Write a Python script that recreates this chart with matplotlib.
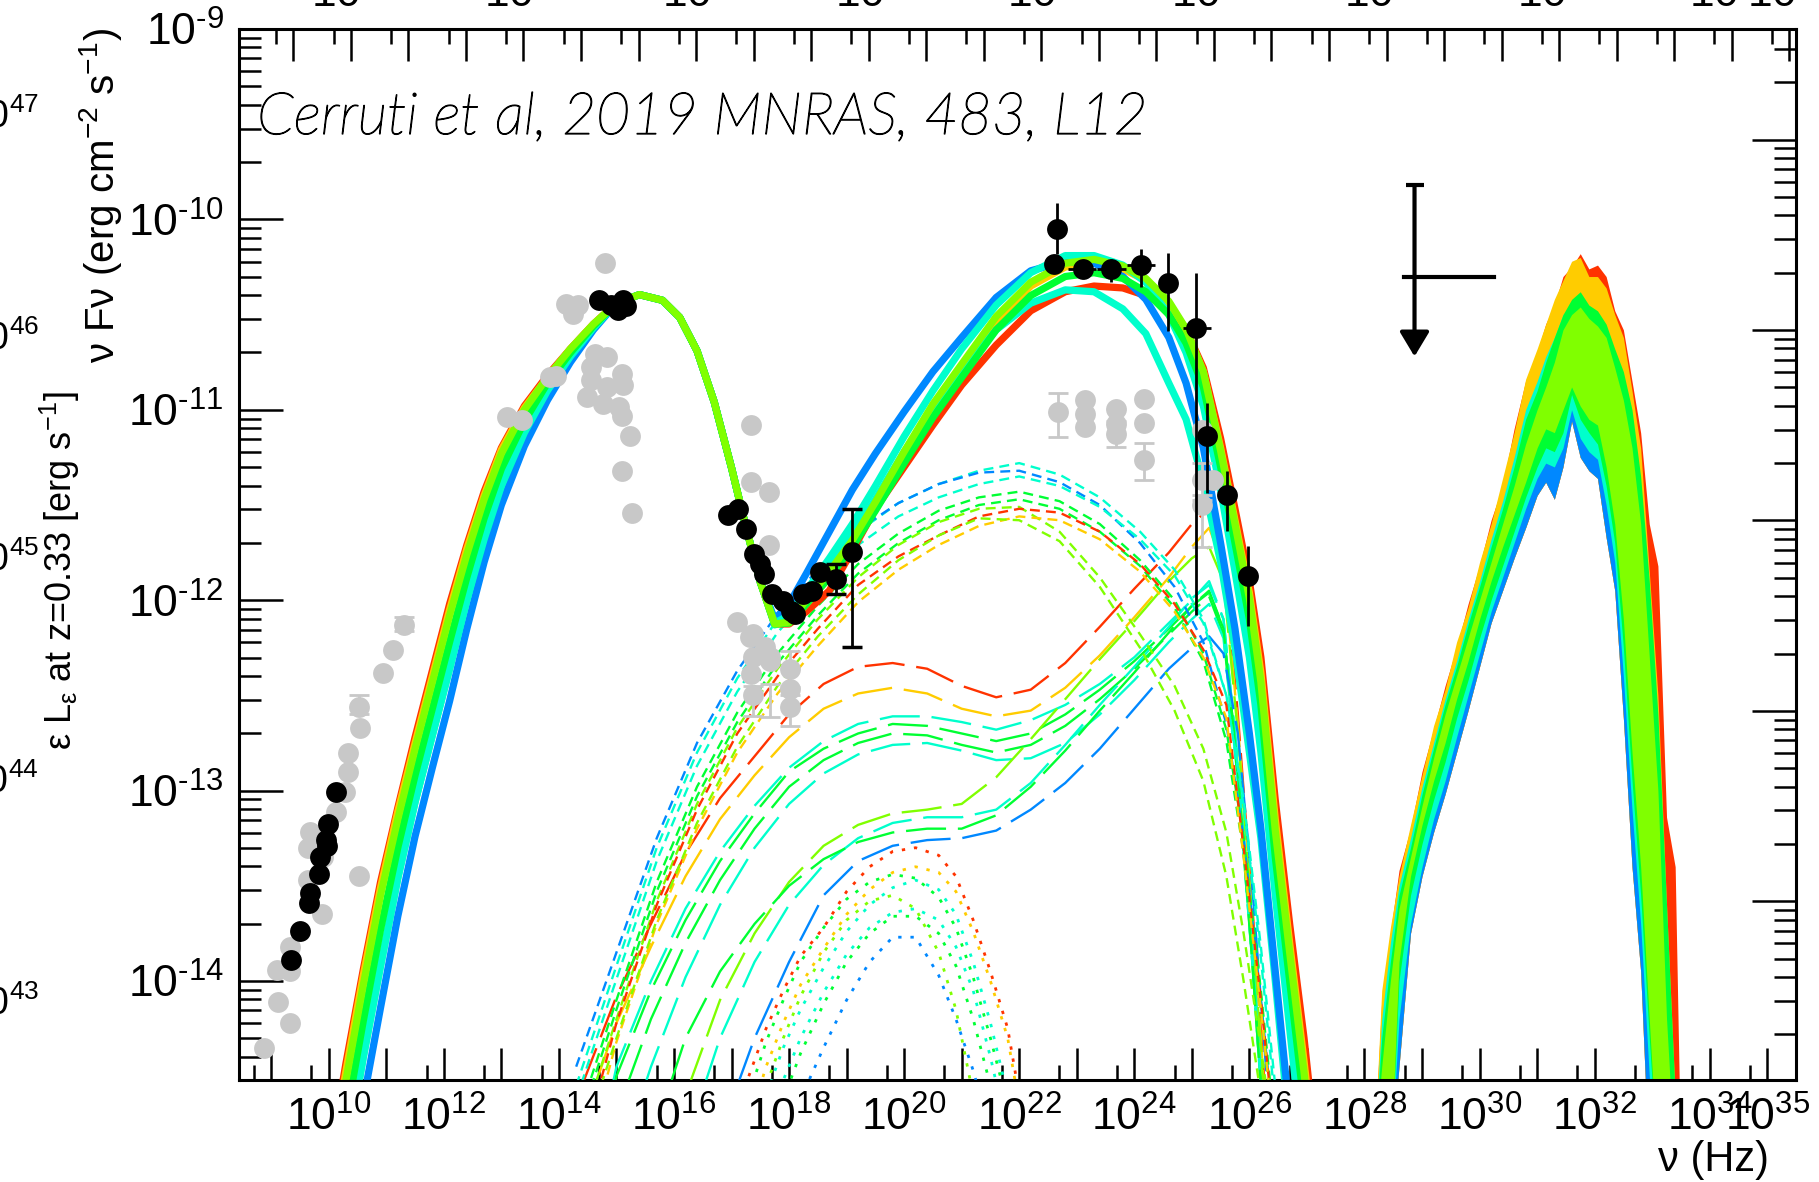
import numpy as np
import matplotlib
matplotlib.use("Agg")
import matplotlib.pyplot as plt
import matplotlib.patheffects as pe
from matplotlib import font_manager
from matplotlib.ticker import FixedLocator, FuncFormatter, NullLocator

# log10(h) in eV s, used for the photon-energy axis on top
LOG_H_EV = -14.3834
# log10(4 pi d_L^2) for z = 0.33, nuFnu -> eps L_eps
LOG_4PI_DL2 = 56.581

X_LOG_MIN, X_LOG_MAX = 8.44, 35.5
Y_LOG_MIN, Y_LOG_MAX = -14.52, -9.0

C_RED = "#ff3300"
C_YELLOW = "#ffcc00"
C_CHART = "#80ff00"
C_GREEN = "#00ff33"
C_CYAN = "#00ffcc"
C_BLUE = "#0088ff"
C_GREY = "#c8c8c8"

# ---------------- total model SEDs (log10 nu, log10 nuFnu) ----------------
lognu_sync_rise = [10.0, 10.3, 10.6, 10.9, 11.2, 11.5, 11.8, 12.1, 12.4, 12.7,
                   13.0, 13.4, 13.8, 14.2, 14.6]
rise_red = [-14.96, -14.43, -13.94, -13.48, -13.09, -12.72, -12.37, -12.02, -11.71, -11.43,
            -11.20, -10.98, -10.82, -10.68, -10.55]
rise_yellow = [-15.00, -14.47, -13.97, -13.51, -13.11, -12.75, -12.40, -12.05, -11.73, -11.45,
               -11.21, -10.99, -10.83, -10.68, -10.55]
rise_chart = [-15.05, -14.52, -14.02, -13.55, -13.15, -12.78, -12.43, -12.08, -11.76, -11.47,
              -11.23, -11.00, -10.83, -10.68, -10.55]
rise_green = [-15.25, -14.72, -14.21, -13.73, -13.30, -12.92, -12.57, -12.22, -11.88, -11.57,
              -11.31, -11.06, -10.86, -10.70, -10.56]
rise_cyan = [-15.45, -14.92, -14.40, -13.92, -13.46, -13.06, -12.71, -12.36, -12.00, -11.68,
             -11.40, -11.12, -10.90, -10.72, -10.57]
rise_blue = [-15.70, -15.17, -14.63, -14.14, -13.66, -13.24, -12.88, -12.53, -12.15, -11.80,
             -11.50, -11.19, -10.95, -10.75, -10.58]

lognu_sync_fall = [15.0, 15.4, 15.8, 16.1, 16.4, 16.7, 17.0, 17.25, 17.5]
logf_sync_fall = [-10.44, -10.395, -10.425, -10.515, -10.69, -10.96, -11.305, -11.615, -11.905]

lognu_ic = [17.75, 18.0, 18.3, 18.7, 19.1, 19.5, 20.0, 20.5, 21.0, 21.6,
            22.2, 22.8, 23.3, 23.8, 24.2, 24.6, 24.9, 25.2, 25.5, 25.75,
            26.0, 26.2, 26.45, 26.7, 26.95, 27.2]
ic_red = [-12.125, -12.125, -12.06, -11.95, -11.74, -11.52, -11.30, -11.08, -10.87, -10.66,
          -10.48, -10.38, -10.35, -10.36, -10.40, -10.45, -10.58, -10.78, -11.15, -11.52,
          -11.90, -12.30, -13.05, -13.70, -14.30, -15.0]
ic_yellow = [-12.125, -12.12, -12.02, -11.88, -11.71, -11.51, -11.25, -11.00, -10.79, -10.54,
             -10.35, -10.25, -10.23, -10.26, -10.32, -10.44, -10.58, -10.80, -11.20, -11.58,
             -11.96, -12.38, -13.15, -13.80, -14.42, -15.1]
ic_chart = [-12.125, -12.115, -12.00, -11.85, -11.685, -11.485, -11.22, -10.97, -10.76, -10.51,
            -10.33, -10.23, -10.21, -10.245, -10.31, -10.43, -10.575, -10.80, -11.215, -11.60,
            -11.99, -12.43, -13.21, -13.85, -14.48, -15.2]
ic_green = [-12.125, -12.12, -12.02, -11.88, -11.72, -11.53, -11.28, -11.04, -10.83, -10.58,
            -10.40, -10.30, -10.28, -10.31, -10.38, -10.50, -10.65, -10.88, -11.30, -11.70,
            -12.10, -12.55, -13.35, -14.00, -14.65, -15.3]
ic_cyan = [-12.12, -12.08, -11.95, -11.78, -11.60, -11.40, -11.14, -10.90, -10.68, -10.45,
           -10.28, -10.19, -10.19, -10.24, -10.33, -10.50, -10.70, -10.98, -11.42, -11.85,
           -12.30, -12.80, -13.55, -14.25, -14.95, -15.6]
ic_cyan2 = [-12.13, -12.10, -11.98, -11.83, -11.66, -11.47, -11.22, -10.99, -10.80, -10.58,
            -10.44, -10.37, -10.38, -10.47, -10.60, -10.86, -11.05, -11.38, -11.80, -12.25,
            -12.80, -13.25, -14.00, -14.80, -15.5, -16.0]
ic_blue = [-12.10, -12.02, -11.86, -11.64, -11.42, -11.23, -11.01, -10.80, -10.62, -10.41,
           -10.27, -10.22, -10.23, -10.30, -10.42, -10.62, -10.86, -11.20, -11.70, -12.15,
           -12.70, -13.20, -13.95, -14.70, -15.5, -16.0]

# ---------------- short-dashed components ----------------
lognu_dash = [14.3, 15.0, 15.7, 16.4, 17.1, 17.8, 18.5, 19.2, 19.9, 20.6, 21.3,
              22.0, 22.7, 23.4, 24.1, 24.7, 25.2, 25.6, 25.9, 26.2, 26.5]
dash_cyan = [-14.55, -13.92, -13.30, -12.80, -12.41, -12.10, -11.86, -11.64, -11.49, -11.39, -11.32,
             -11.28, -11.34, -11.46, -11.64, -11.84, -12.10, -12.50, -13.08, -13.88, -14.8]
dash_blue = [-14.45, -13.85, -13.25, -12.75, -12.37, -12.07, -11.84, -11.63, -11.49, -11.39, -11.33,
             -11.32, -11.38, -11.50, -11.70, -11.93, -12.22, -12.65, -13.25, -14.10, -15.0]
dash_cyan2 = [-14.62, -13.99, -13.37, -12.87, -12.48, -12.17, -11.93, -11.71, -11.56, -11.46, -11.39,
              -11.35, -11.40, -11.51, -11.68, -11.87, -12.12, -12.50, -13.05, -13.82, -14.7]
dash_green = [-14.75, -14.10, -13.48, -12.98, -12.59, -12.28, -12.03, -11.81, -11.65, -11.53, -11.46,
              -11.43, -11.48, -11.60, -11.79, -12.00, -12.28, -12.68, -13.25, -14.05, -14.95]
dash_green2 = [-14.80, -14.15, -13.53, -13.03, -12.64, -12.33, -12.08, -11.86, -11.70, -11.58, -11.50,
               -11.47, -11.52, -11.64, -11.82, -12.04, -12.32, -12.74, -13.33, -14.15, -15.0]
dash_chart = [-14.85, -14.20, -13.58, -13.07, -12.67, -12.36, -12.10, -11.88, -11.71, -11.59, -11.52,
              -11.51, -11.64, -11.88, -12.18, -12.45, -12.78, -13.22, -13.75, -14.35, -15.0]
dash_red = [-15.00, -14.22, -13.60, -13.10, -12.70, -12.40, -12.15, -11.92, -11.77, -11.66, -11.56,
            -11.52, -11.54, -11.64, -11.81, -12.02, -12.26, -12.55, -13.30, -14.10, -15.0]
dash_yellow = [-15.10, -14.32, -13.70, -13.20, -12.80, -12.49, -12.24, -12.01, -11.84, -11.71, -11.61,
               -11.56, -11.58, -11.68, -11.85, -12.06, -12.30, -12.62, -13.35, -14.15, -15.0]
dash_chart2 = [-14.95, -14.30, -13.68, -13.17, -12.77, -12.45, -12.19, -11.97, -11.79, -11.66, -11.57,
               -11.58, -11.69, -11.93, -12.25, -12.58, -12.95, -13.45, -14.00, -14.60, -15.2]

# ---------------- long-dashed components ----------------
lognu_ldash = [14.4, 15.0, 15.6, 16.2, 16.8, 17.4, 18.0, 18.6, 19.2, 19.8, 20.4, 21.0,
               21.6, 22.2, 22.8, 23.4, 24.0, 24.6, 25.0, 25.3, 25.55, 25.8, 26.05, 26.3]
ldash_red = [-14.55, -14.08, -13.70, -13.33, -13.04, -12.82, -12.60, -12.44, -12.35, -12.33, -12.36, -12.45,
             -12.51, -12.47, -12.33, -12.14, -11.94, -11.75, -11.60, -11.52, -11.75, -12.60, -13.60, -14.70]
ldash_yellow = [-14.75, -14.22, -13.82, -13.45, -13.15, -12.92, -12.72, -12.57, -12.49, -12.46, -12.49, -12.57,
                -12.61, -12.58, -12.46, -12.29, -12.09, -11.88, -11.72, -11.62, -11.82, -12.65, -13.65, -14.75]
ldash_cyan = [-15.30, -14.45, -14.00, -13.62, -13.32, -13.08, -12.88, -12.74, -12.65, -12.61, -12.61, -12.64,
              -12.68, -12.63, -12.55, -12.44, -12.30, -12.12, -12.00, -11.90, -12.10, -12.85, -13.80, -14.90]
ldash_green = [-15.40, -14.50, -14.05, -13.68, -13.37, -13.12, -12.90, -12.78, -12.70, -12.65, -12.66, -12.70,
               -12.74, -12.70, -12.60, -12.47, -12.32, -12.15, -12.03, -11.95, -12.15, -12.90, -13.85, -14.95]
ldash_green2 = [-15.60, -14.70, -14.20, -13.80, -13.47, -13.20, -12.98, -12.84, -12.75, -12.70, -12.71, -12.76,
                -12.80, -12.76, -12.66, -12.52, -12.36, -12.18, -12.06, -11.98, -12.18, -12.95, -13.90, -15.00]
ldash_cyan2 = [-15.90, -15.00, -14.45, -13.98, -13.60, -13.30, -13.07, -12.91, -12.81, -12.76, -12.75, -12.79,
               -12.84, -12.83, -12.75, -12.60, -12.42, -12.22, -12.10, -12.02, -12.20, -12.95, -13.90, -15.00]
ldash_chart = [-17.00, -16.00, -15.10, -14.60, -14.10, -13.75, -13.48, -13.29, -13.18, -13.12, -13.10, -13.07,
               -12.93, -12.73, -12.52, -12.31, -12.11, -11.90, -11.78, -11.72, -11.90, -12.70, -13.70, -14.80]
ldash_cyan3 = [-17.50, -16.50, -15.50, -14.85, -14.30, -13.90, -13.60, -13.39, -13.25, -13.17, -13.14, -13.14,
               -13.10, -12.96, -12.76, -12.55, -12.35, -12.14, -11.99, -11.92, -12.10, -12.85, -13.85, -14.95]
ldash_green3 = [-17.50, -16.20, -14.85, -14.30, -13.95, -13.70, -13.50, -13.36, -13.27, -13.22, -13.20, -13.20,
                -13.13, -12.98, -12.79, -12.58, -12.38, -12.17, -12.03, -11.96, -12.15, -12.90, -13.90, -15.00]
ldash_blue = [-19.00, -18.00, -17.00, -15.60, -14.80, -14.30, -13.90, -13.55, -13.37, -13.29, -13.26, -13.25,
              -13.21, -13.10, -12.96, -12.78, -12.57, -12.36, -12.25, -12.19, -12.28, -12.70, -13.50, -14.50]

# ---------------- dotted components ----------------
lognu_dot = [17.3, 17.6, 17.9, 18.2, 18.6, 19.0, 19.4, 19.8, 20.2, 20.6, 20.9, 21.2, 21.5, 21.8, 22.0]
dot_red = [-14.50, -14.25, -14.05, -13.87, -13.72, -13.53, -13.40, -13.32, -13.30, -13.34, -13.45, -13.68, -13.95, -14.25, -14.60]
dot_yellow = [-14.75, -14.45, -14.22, -14.02, -13.83, -13.65, -13.52, -13.43, -13.40, -13.43, -13.53, -13.74, -14.00, -14.30, -14.65]
dot_green = [-14.60, -14.32, -14.10, -13.90, -13.72, -13.57, -13.48, -13.44, -13.46, -13.56, -13.72, -13.98, -14.30, -14.65, -15.00]
dot_cyan = [-14.90, -14.60, -14.35, -14.15, -13.93, -13.74, -13.60, -13.51, -13.47, -13.52, -13.65, -13.90, -14.22, -14.60, -15.00]
dot_chart = [-14.85, -14.55, -14.30, -14.08, -13.85, -13.68, -13.58, -13.55, -13.62, -13.85, -14.15, -14.60, -15.10, -15.60, -16.00]
dot_cyan2 = [-15.10, -14.80, -14.52, -14.30, -14.06, -13.86, -13.72, -13.64, -13.62, -13.68, -13.82, -14.05, -14.40, -14.80, -15.20]
dot_green2 = [-15.20, -14.90, -14.62, -14.38, -14.12, -13.90, -13.75, -13.66, -13.66, -13.75, -13.92, -14.20, -14.55, -14.95, -15.30]
dot_blue = [-15.60, -15.20, -14.90, -14.62, -14.35, -14.10, -13.90, -13.77, -13.77, -13.97, -14.20, -14.47, -14.80, -15.20, -15.60]

# ---------------- neutrino bands ----------------
lognu_neutrino = [28.15, 28.3, 28.45, 28.6, 28.8, 29.0, 29.2, 29.4, 29.6, 29.8, 30.0,
                  30.2, 30.4, 30.6, 30.8, 31.0, 31.15, 31.3, 31.45, 31.6, 31.75, 31.9,
                  32.05, 32.2, 32.35, 32.5, 32.65, 32.8, 32.95, 33.1, 33.25, 33.4, 33.5]
nu_band_bottom = [-15.0, -15.0, -15.0, -14.45, -13.75, -13.45, -13.22, -13.02, -12.80, -12.58, -12.35,
                  -12.12, -11.95, -11.78, -11.62, -11.45, -11.38, -11.47, -11.30, -11.06, -11.25, -11.32,
                  -11.36, -11.67, -11.95, -12.62, -13.40, -13.95, -15.0, -15.0, -15.0, -15.0, -15.0]
nu_red_top = [-15.0, -14.10, -13.75, -13.42, -13.20, -12.90, -12.68, -12.45, -12.25, -12.02, -11.82,
              -11.58, -11.40, -11.10, -10.85, -10.70, -10.55, -10.45, -10.30, -10.25, -10.18, -10.26,
              -10.24, -10.30, -10.48, -10.58, -10.85, -11.12, -11.60, -11.82, -13.14, -13.40, -15.0]
nu_yellow_top = [-15.0, -14.05, -13.72, -13.45, -13.18, -12.92, -12.66, -12.47, -12.22, -12.04, -11.80,
                 -11.60, -11.36, -11.12, -10.84, -10.68, -10.55, -10.42, -10.32, -10.22, -10.20, -10.30,
                 -10.30, -10.36, -10.50, -10.62, -10.90, -11.20, -11.85, -12.50, -13.60, -14.60, -15.2]
nu_blue_top = [-15.0, -14.40, -14.10, -13.70, -13.45, -13.15, -12.95, -12.72, -12.50, -12.30, -12.10,
               -11.88, -11.68, -11.50, -11.30, -11.10, -11.00, -10.95, -10.85, -10.80, -10.85, -10.90,
               -10.95, -11.10, -11.40, -11.90, -12.60, -13.30, -14.20, -15.0, -15.0, -15.0, -15.0]
nu_cyan_top = [-15.0, -14.20, -13.80, -13.50, -13.25, -12.98, -12.75, -12.52, -12.32, -12.10, -11.90,
               -11.68, -11.48, -11.25, -11.00, -10.85, -10.72, -10.62, -10.50, -10.45, -10.42, -10.48,
               -10.50, -10.58, -10.72, -10.86, -11.10, -11.50, -12.00, -12.90, -14.00, -15.0, -15.0]
nu_cyan_bottom = [-15.0, -15.0, -15.0, -14.20, -13.70, -13.40, -13.15, -12.95, -12.72, -12.50, -12.28,
                  -12.06, -11.88, -11.70, -11.52, -11.36, -11.28, -11.30, -11.20, -11.00, -11.15, -11.22,
                  -11.26, -11.50, -11.80, -12.40, -13.10, -13.70, -14.50, -15.0, -15.0, -15.0, -15.0]
nu_green_top = [-15.0, -14.30, -13.90, -13.55, -13.30, -13.02, -12.78, -12.55, -12.35, -12.13, -11.93,
                -11.72, -11.52, -11.30, -11.05, -10.90, -10.75, -10.62, -10.50, -10.42, -10.38, -10.45,
                -10.48, -10.55, -10.68, -10.80, -11.00, -11.35, -11.90, -12.60, -13.60, -14.60, -15.2]
nu_green_bottom = [-15.0, -15.0, -15.0, -14.00, -13.55, -13.28, -13.05, -12.85, -12.62, -12.42, -12.20,
                   -12.00, -11.82, -11.64, -11.46, -11.30, -11.20, -11.22, -11.12, -10.92, -11.05, -11.12,
                   -11.18, -11.40, -11.70, -12.25, -12.95, -13.55, -14.30, -15.0, -15.0, -15.0, -15.0]
nu_chart_top = [-15.0, -14.45, -14.00, -13.62, -13.35, -13.08, -12.83, -12.60, -12.40, -12.20, -12.00,
                -11.80, -11.60, -11.40, -11.18, -11.00, -10.88, -10.75, -10.58, -10.50, -10.46, -10.52,
                -10.56, -10.62, -10.78, -10.95, -11.20, -11.60, -12.30, -13.00, -14.20, -15.0, -15.0]
nu_chart_bottom = [-15.0, -15.0, -15.0, -13.90, -13.45, -13.18, -12.95, -12.75, -12.52, -12.32, -12.10,
                   -11.90, -11.72, -11.55, -11.38, -11.20, -11.10, -11.12, -11.00, -10.88, -10.98, -11.05,
                   -11.08, -11.30, -11.60, -12.10, -12.80, -13.40, -14.20, -15.0, -15.0, -15.0, -15.0]

# ---------------- data points ----------------
radio_lognu = [9.34, 9.50, 9.66, 9.67, 9.83, 9.85, 9.95, 9.97, 9.99, 10.125]
radio_logf = [-13.89, -13.74, -13.59, -13.54, -13.44, -13.35, -13.26, -13.29, -13.176, -13.01]

optical_lognu = [14.70, 14.91, 15.02, 15.12, 15.16]
optical_logf = [-10.425, -10.451, -10.477, -10.425, -10.456]

xray_lognu = [16.93, 17.11, 17.25, 17.39, 17.50, 17.57, 17.71, 17.89, 18.03, 18.10,
              18.245, 18.39, 18.53, 18.81, 19.10]
xray_logf = [-11.555, -11.52, -11.625, -11.757, -11.81, -11.862, -11.967, -12.002, -12.055, -12.072,
             -11.967, -11.95, -11.853, -11.888, -11.748]
xray_err_lognu = [18.81, 19.10]
xray_err_logf = [-11.888, -11.748]
xray_err_lo = [-11.967, -12.248]
xray_err_hi = [-11.81, -11.52]

fermi_lognu = [22.61, 23.10, 23.60, 24.11, 24.59, 25.08]
fermi_logf = [-10.236, -10.258, -10.263, -10.24, -10.334, -10.568]
fermi_lognu_lo = [22.45, 22.84, 23.36, 23.87, 24.44, 24.84]
fermi_lognu_hi = [22.78, 23.34, 23.86, 24.36, 24.73, 25.33]
fermi_logf_lo = [-10.27, -10.29, -10.328, -10.355, -10.586, -12.076]
fermi_logf_hi = [-10.20, -10.23, -10.223, -10.158, -10.178, -10.281]

flare_lognu = [22.66]
flare_logf = [-10.053]
flare_logf_lo = [-10.18]
flare_logf_hi = [-9.915]

vhe_lognu = [25.27, 25.61, 25.98]
vhe_logf = [-11.135, -11.45, -11.871]
vhe_logf_lo = [-11.436, -11.634, -12.135]
vhe_logf_hi = [-10.963, -11.322, -11.717]

archive_lognu = [8.87, 9.10, 9.12, 9.33, 9.33, 9.33, 9.64, 9.64, 9.67, 9.88, 9.90, 10.125,
                 10.28, 10.34, 10.34, 10.52, 10.52, 10.55, 10.95, 11.12, 11.30,
                 13.10, 13.35, 13.85, 13.95, 14.13, 14.24, 14.34, 14.49, 14.56, 14.56, 14.63,
                 14.77, 14.80, 14.84, 14.84, 15.05, 15.09, 15.09, 15.09, 15.12, 15.23, 15.27,
                 17.09, 17.32, 17.34, 17.34, 17.34, 17.38, 17.38, 17.38, 17.59, 17.65, 17.65,
                 17.66, 17.67, 18.02, 18.02, 18.02,
                 22.68, 23.14, 23.14, 23.14, 23.68, 23.68, 23.68, 24.17, 24.17, 24.17,
                 25.17, 25.17, 25.17, 25.37]
archive_logf = [-14.35, -13.94, -14.11, -13.82, -13.95, -14.22, -13.30, -13.47, -13.22, -13.65, -13.35, -13.11,
                -13.01, -12.80, -12.90, -12.56, -13.45, -12.67, -12.38, -12.26, -12.13,
                -11.04, -11.056, -10.828, -10.82, -10.442, -10.495, -10.451, -10.933, -10.775, -10.845, -10.705,
                -10.968, -10.229, -10.723, -10.88, -10.986, -10.81, -11.03, -11.32, -10.872, -11.14, -11.54,
                -12.116, -12.195, -11.08, -11.38, -12.388, -12.177, -12.30, -12.50, -12.248, -11.43, -11.71,
                -12.318, -12.30, -12.362, -12.466, -12.563,
                -11.012, -10.951, -11.02, -11.09, -10.995, -11.073, -11.126, -10.942, -11.07, -11.266,
                -11.108, -11.371, -11.50, -11.37]
archive_err_lognu = [10.52, 11.30, 17.38, 17.66, 18.02, 18.02, 22.68, 23.68, 24.17, 25.17, 25.17]
archive_err_logf = [-12.56, -12.13, -12.50, -12.519, -12.362, -12.563, -11.012, -11.126, -11.266, -11.371, -11.50]
archive_err_lo = [-12.60, -12.16, -12.607, -12.615, -12.458, -12.66, -11.143, -11.196, -11.371, -11.476, -11.72]
archive_err_hi = [-12.50, -12.09, -12.45, -12.44, -12.265, -12.50, -10.914, -11.06, -11.177, -11.282, -11.45]

# neutrino flux upper limit
ul_lognu, ul_lognu_lo, ul_lognu_hi = 28.87, 28.68, 30.25
ul_logf, ul_logf_top, ul_logf_tip = -10.30, -9.82, -10.72


def lin(vals):
    return np.power(10.0, np.asarray(vals, dtype=float))


def pick_font(name, fallback):
    names = {f.name for f in font_manager.fontManager.ttflist}
    return name if name in names else fallback


def decade_formatter(keep):
    # ROOT-style labels with a short hyphen for negative exponents
    def fmt(value, pos):
        k = int(round(np.log10(value)))
        if k not in keep:
            return ""
        exp = ("\u2010%d" % -k) if k < 0 else ("%d" % k)
        return r"$\mathregular{10^{%s}}$" % exp
    return FuncFormatter(fmt)


def draw_sed():
    narrow = pick_font("Liberation Sans Narrow", "Liberation Sans")
    plt.rcParams["font.family"] = [narrow, "DejaVu Sans"]

    fig = plt.figure(figsize=(18.19, 11.82), dpi=100)
    W, H = 1819.0, 1182.0
    ax = fig.add_axes([239 / W, 1 - 1080 / H, (1796 - 239) / W, (1080 - 29) / H])
    ax.set_xscale("log")
    ax.set_yscale("log")
    ax.set_xlim(10 ** X_LOG_MIN, 10 ** X_LOG_MAX)
    ax.set_ylim(10 ** Y_LOG_MIN, 10 ** Y_LOG_MAX)

    # neutrino bands
    nx = lin(lognu_neutrino)
    layers = [
        (nu_band_bottom, nu_red_top, C_RED),
        (nu_band_bottom, nu_yellow_top, C_YELLOW),
        (nu_band_bottom, nu_blue_top, C_BLUE),
        (nu_cyan_bottom, nu_cyan_top, C_CYAN),
        (nu_green_bottom, nu_green_top, C_GREEN),
        (nu_chart_bottom, nu_chart_top, C_CHART),
    ]
    for lo, hi, col in layers:
        ax.fill_between(nx, lin(lo), lin(hi), color=col, lw=0, zorder=2)

    # dotted, long-dashed and dashed components
    dot_sets = [(dot_red, C_RED), (dot_yellow, C_YELLOW), (dot_green, C_GREEN), (dot_cyan, C_CYAN),
                (dot_chart, C_CHART), (dot_cyan2, C_CYAN), (dot_green2, C_GREEN), (dot_blue, C_BLUE)]
    for vals, col in dot_sets:
        ax.plot(lin(lognu_dot), lin(vals), color=col, lw=2.0, dashes=(1.2, 3.2), zorder=3)

    ldash_sets = [(ldash_red, C_RED), (ldash_yellow, C_YELLOW), (ldash_cyan, C_CYAN),
                  (ldash_green, C_GREEN), (ldash_green2, C_GREEN), (ldash_cyan2, C_CYAN),
                  (ldash_chart, C_CHART), (ldash_cyan3, C_CYAN), (ldash_green3, C_GREEN),
                  (ldash_blue, C_BLUE)]
    for vals, col in ldash_sets:
        ax.plot(lin(lognu_ldash), lin(vals), color=col, lw=1.7, dashes=(17, 5), zorder=3)

    dash_sets = [(dash_cyan, C_CYAN), (dash_blue, C_BLUE), (dash_cyan2, C_CYAN),
                 (dash_green, C_GREEN), (dash_green2, C_GREEN), (dash_chart, C_CHART),
                 (dash_red, C_RED), (dash_yellow, C_YELLOW), (dash_chart2, C_CHART)]
    for vals, col in dash_sets:
        ax.plot(lin(lognu_dash), lin(vals), color=col, lw=1.7, dashes=(4.2, 2.6), zorder=3)

    # total model SEDs
    model_nu = lin(lognu_sync_rise + lognu_sync_fall + lognu_ic)
    models = [(rise_red, ic_red, C_RED), (rise_yellow, ic_yellow, C_YELLOW),
              (rise_cyan, ic_cyan2, C_CYAN), (rise_blue, ic_blue, C_BLUE),
              (rise_cyan, ic_cyan, C_CYAN), (rise_green, ic_green, C_GREEN),
              (rise_chart, ic_chart, C_CHART)]
    for rise, ic, col in models:
        ax.plot(model_nu, lin(rise + logf_sync_fall + ic), color=col, lw=5.2,
                solid_joinstyle="round", zorder=4)

    # archival data
    gx, gy = lin(archive_err_lognu), lin(archive_err_logf)
    ax.errorbar(gx, gy, yerr=[gy - lin(archive_err_lo), lin(archive_err_hi) - gy], fmt="none",
                ecolor=C_GREY, elinewidth=2, capsize=7, capthick=2, zorder=5)
    ax.plot(lin(archive_lognu), lin(archive_logf), "o", color=C_GREY, ms=15, mew=0, zorder=5)

    # contemporaneous data
    ax.plot(lin(radio_lognu), lin(radio_logf), "o", color="black", ms=15, mew=0, zorder=6)
    ax.plot(lin(optical_lognu), lin(optical_logf), "o", color="black", ms=15, mew=0, zorder=6)
    ax.plot(lin(xray_lognu), lin(xray_logf), "o", color="black", ms=15, mew=0, zorder=6)
    ex, ey = lin(xray_err_lognu), lin(xray_err_logf)
    ax.errorbar(ex, ey, yerr=[ey - lin(xray_err_lo), lin(xray_err_hi) - ey], fmt="none",
                ecolor="black", elinewidth=2, capsize=7, capthick=2.5, zorder=6)

    fx, fy = lin(fermi_lognu), lin(fermi_logf)
    ax.errorbar(fx, fy, xerr=[fx - lin(fermi_lognu_lo), lin(fermi_lognu_hi) - fx],
                yerr=[fy - lin(fermi_logf_lo), lin(fermi_logf_hi) - fy],
                fmt="o", color="black", ms=15, mew=0, elinewidth=2, capsize=7, capthick=2.5, zorder=6)
    sx, sy = lin(flare_lognu), lin(flare_logf)
    ax.errorbar(sx, sy, yerr=[sy - lin(flare_logf_lo), lin(flare_logf_hi) - sy],
                fmt="o", color="black", ms=15, mew=0, elinewidth=2, capsize=7, capthick=2.5, zorder=6)
    vx, vy = lin(vhe_lognu), lin(vhe_logf)
    ax.errorbar(vx, vy, yerr=[vy - lin(vhe_logf_lo), lin(vhe_logf_hi) - vy],
                fmt="o", color="black", ms=15, mew=0, elinewidth=2, capsize=7, capthick=2.5, zorder=6)

    # neutrino upper limit
    ax.plot([10 ** ul_lognu_lo, 10 ** ul_lognu_hi], [10 ** ul_logf] * 2, color="black", lw=3, zorder=6)
    ax.plot([10 ** ul_lognu], [10 ** ul_logf_top], "_", color="black", ms=13, mew=3, zorder=6)
    ax.annotate("", xy=(10 ** ul_lognu, 10 ** ul_logf_tip), xytext=(10 ** ul_lognu, 10 ** ul_logf_top),
                arrowprops=dict(arrowstyle="-|>,head_length=0.75,head_width=0.45", color="black",
                                lw=3, mutation_scale=20, shrinkA=0, shrinkB=0), zorder=6)

    # frequency axis
    ax.xaxis.set_major_locator(FixedLocator([10.0 ** k for k in range(8, 37)]))
    ax.xaxis.set_minor_locator(FixedLocator([5 * 10.0 ** k for k in range(8, 36)]))
    ax.xaxis.set_major_formatter(decade_formatter(set(range(10, 35, 2)) | {35}))
    ax.yaxis.set_major_locator(FixedLocator([10.0 ** k for k in range(-15, -8)]))
    ax.yaxis.set_minor_locator(FixedLocator([m * 10.0 ** k for k in range(-15, -9) for m in range(2, 10)]))
    ax.yaxis.set_major_formatter(decade_formatter(set(range(-14, -8))))
    ax.tick_params(axis="x", which="major", direction="in", length=23, width=1.8, pad=12, labelsize=32)
    ax.tick_params(axis="x", which="minor", direction="in", length=11, width=1.8)
    ax.tick_params(axis="y", which="major", direction="in", length=32, width=1.8, pad=11, labelsize=32)
    ax.tick_params(axis="y", which="minor", direction="in", length=16, width=1.8)
    for sp in ax.spines.values():
        sp.set_linewidth(2.2)

    # photon energy axis on top (eV)
    ax_top = ax.twiny()
    ax_top.set_xscale("log")
    ax_top.set_xlim(10 ** (X_LOG_MIN + LOG_H_EV), 10 ** (X_LOG_MAX + LOG_H_EV))
    ax_top.xaxis.set_major_locator(FixedLocator([10.0 ** k for k in range(-7, 23)]))
    ax_top.xaxis.set_minor_locator(FixedLocator([5 * 10.0 ** k for k in range(-7, 22)]))
    ax_top.xaxis.set_major_formatter(decade_formatter(set(range(-4, 21, 3)) | {21}))
    ax_top.tick_params(axis="x", which="major", direction="in", length=23, width=1.8, pad=9, labelsize=32)
    ax_top.tick_params(axis="x", which="minor", direction="in", length=11, width=1.8)

    # luminosity ticks on the right
    ax_r = ax.twinx()
    ax_r.set_yscale("log")
    ax_r.set_ylim(10 ** (Y_LOG_MIN + LOG_4PI_DL2), 10 ** (Y_LOG_MAX + LOG_4PI_DL2))
    ax_r.yaxis.set_major_locator(FixedLocator([10.0 ** k for k in range(41, 49)]))
    ax_r.yaxis.set_minor_locator(FixedLocator([m * 10.0 ** k for k in range(41, 48) for m in range(2, 10)]))
    ax_r.tick_params(axis="y", which="major", direction="in", length=32, width=1.8, labelright=False)
    ax_r.tick_params(axis="y", which="minor", direction="in", length=16, width=1.8)

    # luminosity labels at the far left
    ax_l = ax.twinx()
    ax_l.set_yscale("log")
    ax_l.set_ylim(10 ** 42.639, 10 ** 47.379)
    ax_l.yaxis.set_ticks_position("left")
    ax_l.spines["left"].set_position(("axes", (43 - 239) / 1557.0))
    for sp in ax_l.spines.values():
        sp.set_visible(False)
    ax_l.yaxis.set_major_locator(FixedLocator([10.0 ** k for k in range(43, 48)]))
    ax_l.yaxis.set_minor_locator(NullLocator())
    ax_l.yaxis.set_major_formatter(decade_formatter(set(range(43, 48))))
    ax_l.tick_params(axis="y", which="major", length=0, pad=3, labelsize=27)

    # axis titles and reference
    fig.text(100 / W, 1 - 28 / H, r"ν Fν (erg cm$\mathregular{^{-2}}$ s$\mathregular{^{-1}}$)",
             rotation=90, ha="center", va="top", fontsize=29, family=["Liberation Sans", "DejaVu Sans"])
    fig.text(60 / W, 1 - 571 / H, r"ε L$\mathregular{_{ε}}$ at z=0.33 [erg s$\mathregular{^{-1}}$]",
             rotation=90, ha="center", va="center", fontsize=26)
    fig.text(1769 / W, 1 - 1160 / H, "ν (Hz)", ha="right", va="center", fontsize=30)
    ref = fig.text(257 / W, 1 - 134 / H, "Cerruti et al, 2019 MNRAS, 483, L12", ha="left", va="baseline",
                   fontsize=42, family=["Lato", "DejaVu Sans"], style="italic", weight="light",
                   color="black")
    ref.set_path_effects([pe.withStroke(linewidth=0.9, foreground="black")])

    fig.savefig("out.png", dpi=100)
    plt.close(fig)


if __name__ == "__main__":
    draw_sed()
